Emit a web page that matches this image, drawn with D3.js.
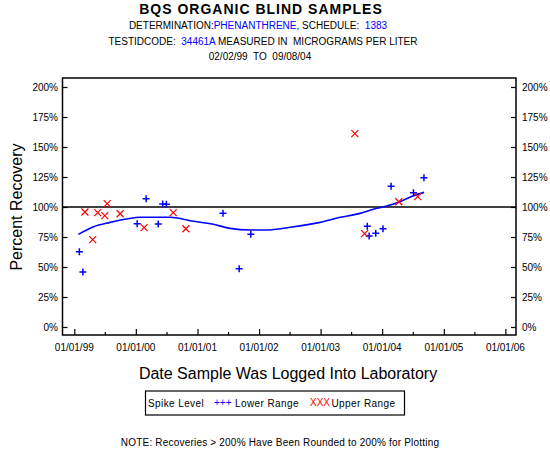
<!DOCTYPE html>
<html><head><meta charset="utf-8">
<script src="https://cdn.jsdelivr.net/npm/d3@7"></script>
<style>body{margin:0;background:#fff;} text{font-family:Arial,"Liberation Sans",sans-serif;}</style>
</head><body>
<svg id="c" width="550" height="450"></svg>
<script>
const lowerDates = ["1999-01-31","1999-02-21","2000-01-09","2000-03-02","2000-05-13","2000-06-08","2000-06-30","2001-06-01","2001-09-05","2001-11-13","2003-10-05","2003-10-16","2003-11-24","2004-01-06","2004-02-23","2004-07-05","2004-09-05"];
const lowerValues = [62.8,45.8,86.1,106.9,85.8,102.5,102.2,94.7,48.6,77.2,83.9,75.8,78.1,81.9,117.2,111.9,124.4];
const upperDates = ["1999-03-05","1999-04-20","1999-05-20","1999-07-01","1999-07-15","1999-09-30","2000-02-19","2000-08-10","2000-10-24","2003-07-23","2003-09-19","2004-04-09","2004-07-30"];
const upperValues = [95.8,72.8,95.3,92.8,102.8,94.4,82.8,95.3,81.9,161.1,77.8,104.4,108.6];
const smoothDates = ["1999-01-25","1999-04-25","1999-08-02","1999-11-08","2000-01-27","2000-07-23","2000-11-18","2001-04-05","2001-07-13","2001-11-09","2002-02-16","2002-07-04","2002-12-29","2003-04-27","2003-08-23","2003-11-10","2004-01-28","2004-04-16","2004-07-04","2004-09-06"];
const smoothValues = [77.2,83.6,87.2,90.0,91.4,91.4,88.6,85.6,82.2,80.8,80.8,83.1,87.2,91.4,94.7,98.1,100.8,104.4,109.4,112.2];
const yTicks = [0,25,50,75,100,125,150,175,200];
const xTickLabels = ["01/01/99","01/01/00","01/01/01","01/01/02","01/01/03","01/01/04","01/01/05","01/01/06"];

const parse = d3.timeParse("%Y-%m-%d");
const svg = d3.select("#c");
const L=62.5, R=516, T=78, B=335;
const x = d3.scaleTime().domain([parse("1998-10-23"), parse("2006-03-05")]).range([L,R]);
const y = d3.scaleLinear().domain([0,200]).range([327,87]);

// titles
svg.append("text").attr("x",261).attr("y",14).attr("text-anchor","middle")
  .style("font-size","14px").style("font-weight","bold").style("letter-spacing","1px").text("BQS ORGANIC BLIND SAMPLES");
const t2 = svg.append("text").attr("x",258).attr("y",29).attr("text-anchor","middle").style("font-size","10px").attr("xml:space","preserve");
t2.append("tspan").text("DETERMINATION:");
t2.append("tspan").attr("fill","#0000ff").text("PHENANTHRENE,");
t2.append("tspan").text(" SCHEDULE:  ");
t2.append("tspan").attr("fill","#0000ff").text("1383");
const t3 = svg.append("text").attr("x",263).attr("y",45).attr("text-anchor","middle").style("font-size","10px").attr("xml:space","preserve");
t3.append("tspan").text("TESTIDCODE:  ");
t3.append("tspan").attr("fill","#0000ff").text("34461A");
t3.append("tspan").text(" MEASURED IN  MICROGRAMS PER LITER");
svg.append("text").attr("x",260).attr("y",60).attr("text-anchor","middle").style("font-size","10px")
  .attr("xml:space","preserve").text("02/02/99  TO  09/08/04");

// frame
svg.append("rect").attr("x",L).attr("y",T).attr("width",R-L).attr("height",B-T)
  .attr("fill","none").attr("stroke","#000").attr("stroke-width",1.5);

// y axes
const yl = svg.append("g").attr("transform",`translate(${L},0)`)
  .call(d3.axisRight(y).tickValues(yTicks).tickSize(5).tickFormat(()=>""));
yl.select(".domain").remove();
const yr = svg.append("g").attr("transform",`translate(${R},0)`)
  .call(d3.axisLeft(y).tickValues(yTicks).tickSize(5).tickFormat(()=>""));
yr.select(".domain").remove();
svg.selectAll(".tick line").attr("stroke-width",1.2);
yTicks.forEach(v=>{
  svg.append("text").attr("x",58).attr("y",y(v)+4).attr("text-anchor","end").style("font-size","10px").text(v+"%");
  svg.append("text").attr("x",522).attr("y",y(v)+4).attr("text-anchor","start").style("font-size","10px").text(v+"%");
});

// x axis ticks
const majors = xTickLabels.map(s=>d3.timeParse("%m/%d/%y")(s));
const minors = majors.map(d=>d3.timeMonth.offset(d,6)).filter(d=>x(d)<R);
const xg = svg.append("g").attr("transform",`translate(0,${B})`)
  .call(d3.axisTop(x).tickValues(majors).tickSize(6).tickFormat(()=>""));
xg.select(".domain").remove();
const xg2 = svg.append("g").attr("transform",`translate(0,${B})`)
  .call(d3.axisTop(x).tickValues(minors).tickSize(3).tickFormat(()=>""));
xg2.select(".domain").remove();
svg.selectAll(".tick line").attr("stroke-width",1.2);
majors.forEach((d,i)=>{
  svg.append("text").attr("x",x(d)).attr("y",351).attr("text-anchor","middle").style("font-size","10px").text(xTickLabels[i]);
});

// axis titles
svg.append("text").attr("x",288).attr("y",379).attr("text-anchor","middle").style("font-size","16px")
  .text("Date Sample Was Logged Into Laboratory");
svg.append("text").attr("transform","translate(22,207) rotate(-90)").attr("text-anchor","middle")
  .style("font-size","16px").text("Percent Recovery");

// 100% line
svg.append("line").attr("x1",L).attr("x2",R).attr("y1",y(100)).attr("y2",y(100))
  .attr("stroke","#000").attr("stroke-width",1.5);

// smooth line
const sm = smoothDates.map((d,i)=>({d:parse(d),v:smoothValues[i]}));
svg.append("path").datum(sm).attr("fill","none").attr("stroke","#0000ff").attr("stroke-width",1.6)
  .attr("d",d3.line().x(p=>x(p.d)).y(p=>y(p.v)).curve(d3.curveMonotoneX));

// markers
const lower = lowerDates.map((d,i)=>({d:parse(d),v:lowerValues[i]}));
const upper = upperDates.map((d,i)=>({d:parse(d),v:upperValues[i]}));
const s=3.5;
svg.append("g").selectAll("path").data(lower).join("path")
  .attr("d",p=>{const cx=x(p.d),cy=y(p.v);return `M${cx-s},${cy}H${cx+s}M${cx},${cy-s}V${cy+s}`;})
  .attr("stroke","#0000ff").attr("stroke-width",1.5).attr("fill","none");
svg.append("g").selectAll("path").data(upper).join("path")
  .attr("d",p=>{const cx=x(p.d),cy=y(p.v);return `M${cx-s},${cy-s}L${cx+s},${cy+s}M${cx-s},${cy+s}L${cx+s},${cy-s}`;})
  .attr("stroke","#ff0000").attr("stroke-width",1.2).attr("fill","none");

// legend
svg.append("rect").attr("x",145.5).attr("y",391).attr("width",259).attr("height",24)
  .attr("fill","none").attr("stroke","#000").attr("stroke-width",1.2);
svg.append("text").attr("x",148).attr("y",407).style("font-size","10px").style("letter-spacing","0.4px").text("Spike Level");
svg.append("text").attr("x",214).attr("y",406).style("font-size","10px").attr("fill","#0000ff").text("+++");
svg.append("text").attr("x",235).attr("y",407).style("font-size","10px").style("letter-spacing","0.4px").text("Lower Range");
svg.append("text").attr("x",310).attr("y",406).style("font-size","10px").attr("fill","#ff0000").text("XXX");
svg.append("text").attr("x",331.5).attr("y",407).style("font-size","10px").style("letter-spacing","0.4px").text("Upper Range");

// note
svg.append("text").attr("x",280).attr("y",446).attr("text-anchor","middle").style("font-size","10px")
  .style("letter-spacing","0.2px")
  .text("NOTE: Recoveries > 200% Have Been Rounded to 200% for Plotting");
</script>
</body></html>
